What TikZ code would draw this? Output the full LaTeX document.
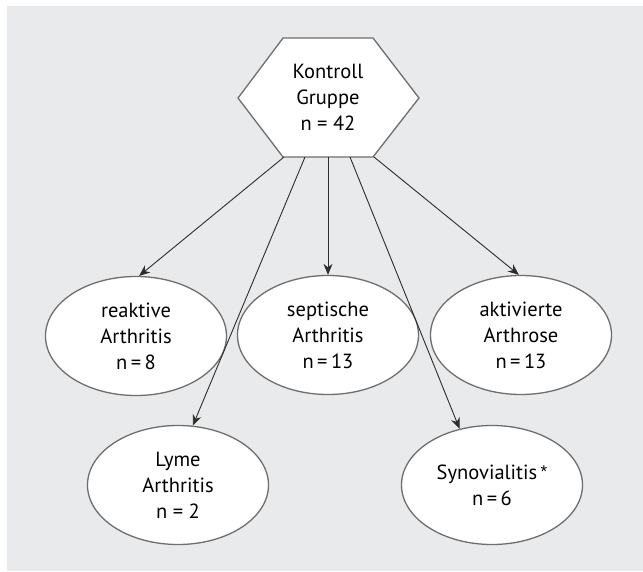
\documentclass[tikz,border=0pt]{standalone}
\usepackage{fontspec}
\setmainfont{PT Sans}
\newfontfamily\astfont{Liberation Sans}
\usetikzlibrary{shapes.geometric,arrows.meta}
\definecolor{bggray}{RGB}{233,234,236}
\definecolor{edgegray}{RGB}{110,110,110}
\definecolor{arrowgray}{RGB}{45,45,45}
\tikzset{
  grp/.style={ellipse, draw=edgegray, line width=1.3pt, fill=white,
    minimum width=181pt, minimum height=119pt, inner sep=0pt,
    align=center, font=\fontsize{20.5}{26}\selectfont, text=black},
  hextxt/.style={align=center, inner sep=0pt, font=\fontsize{20.5}{26}\selectfont, text=black},
  hexline/.style={draw=edgegray, line width=1.3pt, fill=white, line join=miter},
  conn/.style={draw=arrowgray, line width=0.9pt, -{Stealth[length=11pt,width=9pt]}},
}
\newcommand{\starmark}{\,\raisebox{2pt}{\fontsize{17}{17}\astfont *}}
\begin{document}
\begin{tikzpicture}[x=1pt,y=-1pt]
\useasboundingbox (0,0) rectangle (643,571);
\fill[bggray] (7,6) rectangle (643,571);
% hexagon
\draw[hexline] (283,38) -- (373,38) -- (419,98) -- (373,157) -- (283,157) -- (238,98) -- cycle;
\node[hextxt] (kg) at (328,97) {Kontroll\\Gruppe\\n = 42};
\coordinate (s1) at (284,157);
\coordinate (s2) at (305,157);
\coordinate (s3) at (328,157);
\coordinate (s4) at (350,157);
\coordinate (s5) at (374,157);
% ellipses
\node[grp] (rea) at (136,336) {reaktive\\Arthritis\\n\,=\,8};
\node[grp] (sep) at (328,335) {septische\\Arthritis\\n\,=\,13};
\node[grp] (akt) at (521,335) {aktivierte\\Arthrose\\n\,=\,13};
\node[grp] (lym) at (178,485) {Lyme\\Arthritis\\n = 2};
\node[grp] (syn) at (492,485) {Synovialitis\starmark\\n\,=\,6};
% connectors
\draw[conn] (s1) -- (rea.87);
\draw[conn] (s2) -- (lym.76);
\draw[conn] (s3) -- (sep.north);
\draw[conn] (s4) -- (syn.120);
\draw[conn] (s5) -- (akt.92);
\end{tikzpicture}
\end{document}
